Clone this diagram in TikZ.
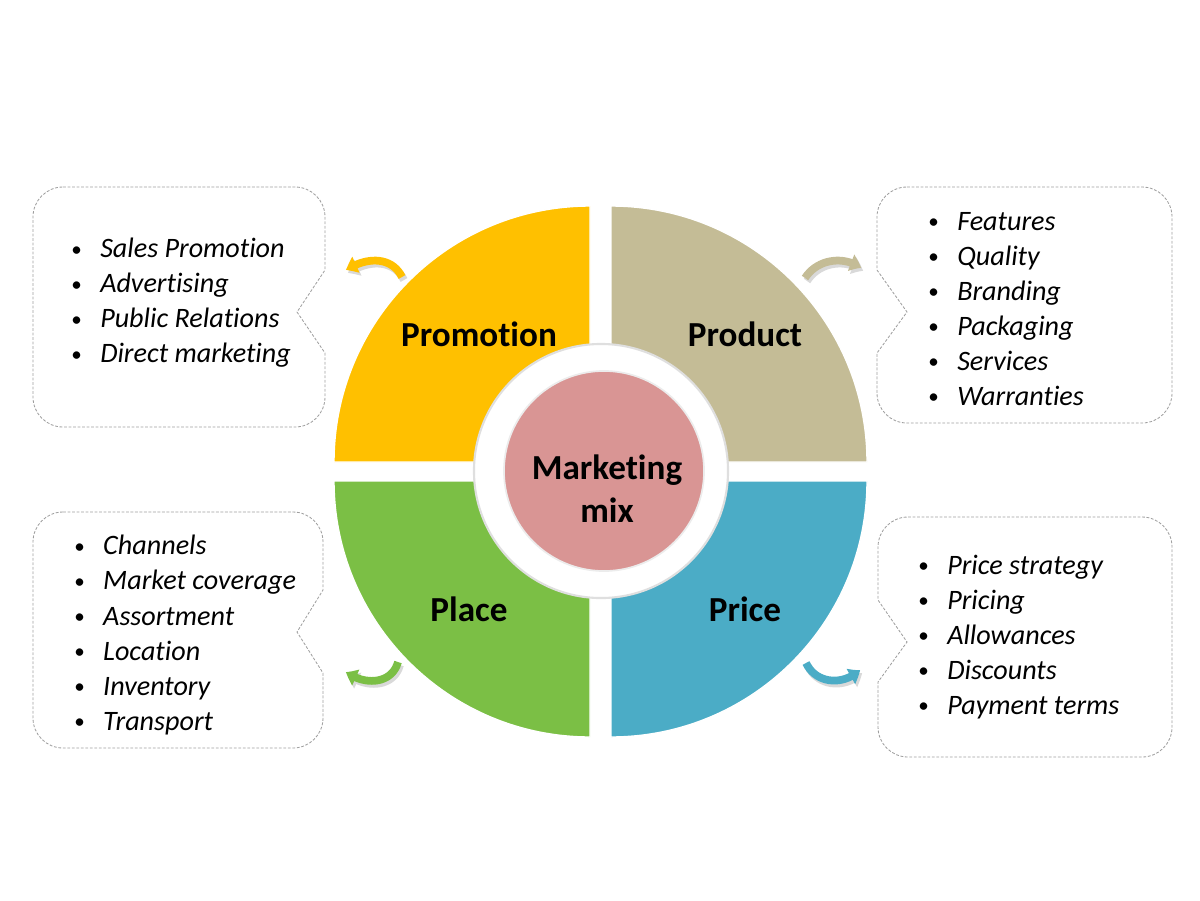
\documentclass[tikz,border=0pt]{standalone}
\usepackage{fontspec}
\setmainfont{Carlito}[RawFeature={-liga;-clig;-calt;-dlig}]
\usetikzlibrary{arrows.meta,bending,positioning}

\definecolor{promoyellow}{HTML}{FFC000}
\definecolor{producttan}{HTML}{C4BC96}
\definecolor{placegreen}{HTML}{7BBF45}
\definecolor{priceblue}{HTML}{4BACC6}
\definecolor{mixpink}{HTML}{D99594}

\tikzset{
  quarter/.style={draw=white, line width=1pt},
  title/.style={font=\fontsize{25}{30.6}\selectfont\bfseries},
  itemlist/.style={anchor=west, align=left, inner sep=0pt, font=\fontsize{20}{24.9}\selectfont},
  callout/.style={draw=gray!75, line width=0.6pt, dash pattern=on 2pt off 1.2pt},
  turn/.style={line width=5.5pt, -{Triangle[width=12pt,length=8pt,bend]}},
  turnshadow/.style={turn, draw=gray!30},
}
\newcommand{\itm}[1]{\makebox[20.6pt][l]{\raisebox{1.2pt}{\fontsize{15}{15}\selectfont\textbullet}}\textit{#1}}

\begin{document}
\begin{tikzpicture}[x=0.025cm, y=-0.025cm]
    \useasboundingbox (0,0) rectangle (1200,900);

    % Draw the four quarters
    \path[quarter, fill=promoyellow] (590,462) -- (334,462) arc[start angle=180, end angle=270, radius=256] -- cycle;
    \path[quarter, fill=producttan] (611,462) -- (611,206) arc[start angle=270, end angle=360, radius=256] -- cycle;
    \path[quarter, fill=priceblue] (611,481) -- (867,481) arc[start angle=0, end angle=90, radius=256] -- cycle;
    \path[quarter, fill=placegreen] (590,481) -- (590,737) arc[start angle=90, end angle=180, radius=256] -- cycle;

    % Draw the centre
    \node[circle, fill=white, draw=gray!25, line width=1.5pt, minimum size=6.35cm] (ring) at (601,471) {};
    \node[circle, fill=mixpink, draw=gray!15, line width=1.2pt, minimum size=5cm] (core) at (604,471) {};
    \node[title, align=center] (mixlabel) at (607,489) {Marketing\\mix};

    % Draw the quarter titles
    \node[title] (promotion) at (479,334) {Promotion};
    \node[title] (product) at (745,334) {Product};
    \node[title] (place) at (469,609) {Place};
    \node[title] (price) at (745,609) {Price};

    % Draw the callout boxes
    \draw[callout] (63,187) -- (295,187) arc[start angle=270, end angle=360, radius=30] -- (325,270) -- (297,312) -- (325,353)
        -- (325,397) arc[start angle=0, end angle=90, radius=30] -- (63,427) arc[start angle=90, end angle=180, radius=30]
        -- (33,217) arc[start angle=180, end angle=270, radius=30] -- cycle;
    \draw[callout] (907,187) -- (1142,187) arc[start angle=270, end angle=360, radius=30] -- (1172,393)
        arc[start angle=0, end angle=90, radius=30] -- (907,423) arc[start angle=90, end angle=180, radius=30]
        -- (877,353) -- (907,312) -- (877,270) -- (877,217) arc[start angle=180, end angle=270, radius=30] -- cycle;
    \draw[callout] (63,512) -- (293,512) arc[start angle=270, end angle=360, radius=30] -- (323,590) -- (297,632) -- (323,673)
        -- (323,718) arc[start angle=0, end angle=90, radius=30] -- (63,748) arc[start angle=90, end angle=180, radius=30]
        -- (33,542) arc[start angle=180, end angle=270, radius=30] -- cycle;
    \draw[callout] (908,517) -- (1142,517) arc[start angle=270, end angle=360, radius=30] -- (1172,727)
        arc[start angle=0, end angle=90, radius=30] -- (908,757) arc[start angle=90, end angle=180, radius=30]
        -- (878,682) -- (907,642) -- (878,600) -- (878,547) arc[start angle=180, end angle=270, radius=30] -- cycle;

    % Draw the lists
    \node[itemlist] (promolist) at (71,303) {\itm{Sales Promotion}\\\itm{Advertising}\\\itm{Public Relations}\\\itm{Direct marketing}};
    \node[itemlist] (productlist) at (928,309) {\itm{Features}\\\itm{Quality}\\\itm{Branding}\\\itm{Packaging}\\\itm{Services}\\\itm{Warranties}};
    \node[itemlist] (placelist) at (74,635) {\itm{Channels}\\\itm{Market coverage}\\\itm{Assortment}\\\itm{Location}\\\itm{Inventory}\\\itm{Transport}};
    \node[itemlist] (pricelist) at (918,637) {\itm{Price strategy}\\\itm{Pricing}\\\itm{Allowances}\\\itm{Discounts}\\\itm{Payment terms}};

    % Draw the small turn arrows
    \coordinate (promoA) at (402,277);
    \coordinate (promoB) at (346,270);
    \coordinate (productA) at (805,278);
    \coordinate (productB) at (861,268);
    \coordinate (placeA) at (398,662);
    \coordinate (placeB) at (346,672);
    \coordinate (priceA) at (806,663);
    \coordinate (priceB) at (860,670);
    \draw[turnshadow] ([shift={(2,3)}]promoA) .. controls +(-10,-20) and +(22,-14) .. ([shift={(2,3)}]promoB);
    \draw[turn, promoyellow] (promoA) .. controls +(-10,-20) and +(22,-14) .. (promoB);
    \draw[turnshadow] ([shift={(2,3)}]productA) .. controls +(13,-20) and +(-16,-12) .. ([shift={(2,3)}]productB);
    \draw[turn, producttan] (productA) .. controls +(13,-20) and +(-16,-12) .. (productB);
    \draw[turnshadow] ([shift={(2,3)}]placeA) .. controls +(-6,22) and +(19,14) .. ([shift={(2,3)}]placeB);
    \draw[turn, placegreen] (placeA) .. controls +(-6,22) and +(19,14) .. (placeB);
    \draw[turnshadow] ([shift={(2,3)}]priceA) .. controls +(10,21) and +(-17,16) .. ([shift={(2,3)}]priceB);
    \draw[turn, priceblue] (priceA) .. controls +(10,21) and +(-17,16) .. (priceB);
\end{tikzpicture}
\end{document}
